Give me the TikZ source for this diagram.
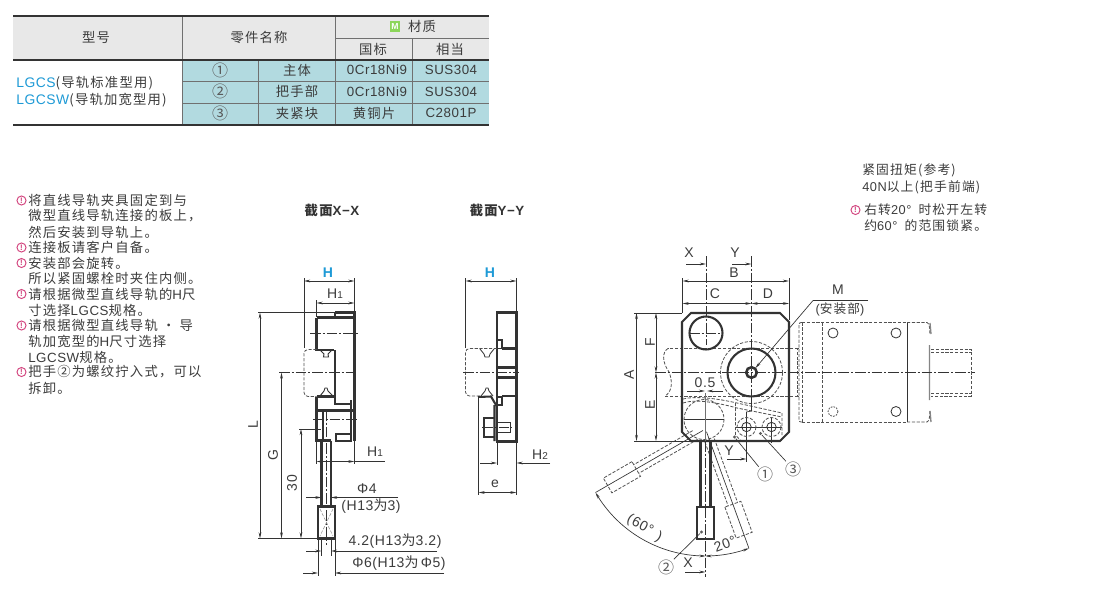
\documentclass[tikz,border=0pt]{standalone}
\usepackage{fontspec}
\usetikzlibrary{arrows.meta}
\setmainfont[LetterSpace=4]{Liberation Sans}
\newfontfamily\cjk[LetterSpace=9]{Noto Sans CJK SC}
\newfontfamily\cjkn{Noto Sans CJK SC}
\newcommand{\C}[1]{{\cjk #1}}
\newcommand{\sz}[1]{\fontsize{#1}{#1}\selectfont}
\newcommand{\subn}[1]{{\sz{7.5}#1}}
\definecolor{ln}{HTML}{333333}
\definecolor{txt}{HTML}{3C3C3C}
\definecolor{tealc}{HTML}{B2DAE0}
\definecolor{headc}{HTML}{E8E8E8}
\definecolor{bluec}{HTML}{1E9AD6}
\definecolor{pinkc}{HTML}{D2447E}
\definecolor{greenc}{HTML}{8CD65A}
\tikzset{
 >={Stealth[length=4.6pt,width=2pt]},
 x=.75pt,y=-.75pt,
 txtn/.style={text=txt,inner sep=0pt,font=\sz{10}},
 lbl/.style={text=txt,inner sep=0pt,font=\sz{10.5}},
 tbl/.style={draw=ln!70,line width=.6pt},
 rule/.style={draw=ln,line width=1.4pt},
 part/.style={draw=ln,line width=1.55pt},
 thin/.style={draw=ln,line width=.5pt},
 hid/.style={draw=ln!85,line width=.6pt,dash pattern=on 2.4pt off 1.2pt},
 ctr/.style={draw=ln,line width=.5pt,dash pattern=on 8pt off 1.5pt on 1.5pt off 1.5pt},
 noteicon/.style={circle,draw=pinkc,line width=.7pt,text=pinkc,inner sep=0pt,minimum size=6.8pt,font=\sz{6}\bfseries},
 dotc/.style={circle,fill=ln!80,inner sep=0pt,minimum size=2.6pt},
 call/.style={text=txt!85,inner sep=0pt,font=\sz{12}\cjkn},
}
\begin{document}
\begin{tikzpicture}
\useasboundingbox (0,0) rectangle (1100,596);
\fill[white] (0,0) rectangle (1100,596);
% ===== table
\fill[headc] (13,16) rectangle (489,60);
\fill[tealc] (182,60) rectangle (489,125);
\draw[tbl] (335,38) -- (489,38);
\draw[tbl] (182,81.5) -- (489,81.5) (182,103.5) -- (489,103.5);
\draw[tbl] (182,16) -- (182,125) (335,16) -- (335,125) (258,60) -- (258,125) (412,38) -- (412,125);
\draw[rule] (13,16) -- (489,16) (13,60) -- (489,60) (13,125) -- (489,125);
\node[txtn] (t1) at (96,37) {\C{型号}};
\node[txtn] (t2) at (259,37) {\C{零件名称}};
\node[fill=greenc,text=white,inner sep=0pt,minimum size=8pt,font=\sz{6.5}\bfseries] (tm) at (395,26.5) {M};
\node[txtn] (t3) at (422,26.5) {\C{材质}};
\node[txtn] (t4) at (373,49) {\C{国标}};
\node[txtn] (t5) at (450,49) {\C{相当}};
\node[call] (r1a) at (220,70) {①};
\node[call] (r2a) at (220,91.5) {②};
\node[call] (r3a) at (220,113) {③};
\node[txtn] (r1b) at (297,70) {\C{主体}};
\node[txtn] (r2b) at (297,91.5) {\C{把手部}};
\node[txtn] (r3b) at (297,113) {\C{夹紧块}};
\node[txtn] (r1c) at (377,70) {0Cr18Ni9};
\node[txtn] (r2c) at (377,91.5) {0Cr18Ni9};
\node[txtn] (r3c) at (374,113) {\C{黄铜片}};
\node[txtn] (r1d) at (451,70) {SUS304};
\node[txtn] (r2d) at (451,91.5) {SUS304};
\node[txtn] (r3d) at (451,113) {C2801P};
\node[txtn,anchor=west] (m1) at (16,83) {{\sz{10.4}\color{bluec}LGCS}\C{(导轨标准型用)}};
\node[txtn,anchor=west] (m2) at (16,100) {{\sz{10.4}\color{bluec}LGCSW}\C{(导轨加宽型用)}};
% ===== notes
\foreach \n/\yy in {a/200.5,b/247.5,c/263,d/294,e/325.5,f/372}{\node[noteicon] (ic\n) at (21.5,\yy) {!};}
\node[txtn,anchor=west] (n1) at (28,200) {\C{将直线导轨夹具固定到与}};
\node[txtn,anchor=west] (n2) at (28,216) {\C{微型直线导轨连接的板上，}};
\node[txtn,anchor=west] (n3) at (28,232) {\C{然后安装到导轨上。}};
\node[txtn,anchor=west] (n4) at (28,247.5) {\C{连接板请客户自备。}};
\node[txtn,anchor=west] (n5) at (28,263) {\C{安装部会旋转。}};
\node[txtn,anchor=west] (n6) at (28,278.5) {\C{所以紧固螺栓时夹住内侧。}};
\node[txtn,anchor=west] (n7) at (28,294) {\C{请根据微型直线导轨的}H\C{尺}};
\node[txtn,anchor=west] (n8) at (28,310) {\C{寸选择}LGCS\C{规格。}};
\node[txtn,anchor=west] (n9) at (28,325.5) {\C{请根据微型直线导轨 · 导}};
\node[txtn,anchor=west] (n10) at (28,341) {\C{轨加宽型的}H\C{尺寸选择}};
\node[txtn,anchor=west] (n11) at (28,357) {LGCSW\C{规格。}};
\node[txtn,anchor=west] (n12) at (28,372) {\C{把手②为螺纹拧入式，可以}};
\node[txtn,anchor=west] (n13) at (28,388) {\C{拆卸。}};
% top right notes
\node[txtn,anchor=west,font=\sz{9.6}] (q1) at (862,170) {\C{紧固扭矩(参考)}};
\node[txtn,anchor=west,font=\sz{9.6}] (q2) at (862,187) {40N\C{以上(把手前端)}};
\node[noteicon] (icq) at (855.5,210) {!};
\node[txtn,anchor=west,font=\sz{9.6}] (q3) at (864,210) {\C{右转}20°\;\;\C{时松开左转}};
\node[txtn,anchor=west,font=\sz{9.6}] (q4) at (864,226) {\C{约}60°\;\;\C{的范围锁紧。}};
% titles
\node[txtn,text=ln,font=\sz{10}\bfseries] (s1) at (332,210) {\C{截面}X−X};
\node[txtn,text=ln,font=\sz{10}\bfseries] (s2) at (497,210) {\C{截面}Y−Y};
% ===== Section X-X
\node[lbl,text=bluec,font=\sz{10.5}\bfseries] (hx) at (328,273) {H};
\draw[thin,<->] (304,281) -- (354.5,281);
\draw[thin] (304,278) -- (304,348) (354.5,278) -- (354.5,312);
\node[lbl] (h1x) at (335,294) {H\subn{1}};
\draw[thin,<->] (316.5,303) -- (354.5,303);
\draw[thin] (316.5,300) -- (316.5,317);
% body
\draw[part] (335,312.5) -- (354.5,312.5) -- (354.5,441) (335,312.5) -- (335,317.5);
\draw[part] (316.5,317.5) -- (354.5,317.5) (316.5,317.5) -- (316.5,350) -- (334,350);
\draw[part] (335,350) -- (335,404) -- (351,404) -- (351,410);
\draw[part] (316.5,396.5) -- (335,396.5);
\draw[part] (316.5,396.5) -- (316.5,440.5) -- (331,440.5);
\draw[part] (316.5,410.5) -- (354.5,410.5);
\draw[part,line width=1pt] (323,410.5) -- (323,440.5);
\draw[part,line width=1.1pt] (351,400) -- (351,441) -- (336,441) -- (336,434) -- (351,434);
% dashed
\draw[hid,rounded corners=3pt] (316.5,349.5) -- (304,349.5) -- (304,396.5) -- (316.5,396.5);
\draw[thin,line width=.7pt] (320,350) -- (324,354) -- (323.5,357) -- (328.5,357) -- (328,354) -- (332,350);
\draw[thin,line width=.7pt] (320,396) -- (324,391) -- (325,388) -- (327,388) -- (328,391) -- (333,396);
% centre lines
\draw[ctr] (310,333) -- (360,333);
\draw[ctr] (279,372.5) -- (358,372.5);
\draw[ctr] (313,419.5) -- (358,419.5);
\draw[ctr] (326,410) -- (326,545);
% handle
\draw[part] (321.5,440.5) -- (321.5,506.5) (331,440.5) -- (331,506.5);
\draw[part] (318,506.5) rectangle (335,538.5);
\draw[hid,draw=ln!55,line width=.4pt] (320,509) -- (333,536) (333,509) -- (320,536);
% dims
\draw[thin] (258,312.5) -- (335,312.5) (258,538.5) -- (318,538.5);
\draw[thin] (299,429) -- (321,429);
\draw[thin,<->] (260,312.5) -- (260,538.5);
\draw[thin,<->] (281.5,372.5) -- (281.5,538.5);
\draw[thin,<->] (301,429) -- (301,538.5);
\node[lbl,rotate=90] (lL) at (253,425) {L};
\node[lbl,rotate=90] (lG) at (273,455) {G};
\node[lbl,rotate=90] (l30) at (292,483) {30};
\draw[thin] (316.5,440) -- (316.5,464) (354.5,440) -- (354.5,464);
\draw[thin,<->] (316.5,461.5) -- (354.5,461.5);
\draw[thin] (354.5,461.5) -- (385,461.5);
\node[lbl] (h1y) at (375,452) {H\subn{1}};
\node[lbl] (phi4) at (367,488.5) {Φ4};
\node[lbl] (h13a) at (371,506) {(H13\C{为}3)};
\draw[thin,->] (306,497.5) -- (321.5,497.5);
\draw[thin,->] (398,497.5) -- (331,497.5);
\node[lbl] (d42) at (395,541) {4.2(H13\C{为}3.2)};
\draw[thin,->] (306,551) -- (321.5,551);
\draw[thin,->] (437,551) -- (331,551);
\draw[thin] (321.5,538) -- (321.5,556) (331,538) -- (331,556);
\node[lbl] (d6) at (399,563) {Φ6(H13\C{为}\,Φ5)};
\draw[thin,->] (303,573) -- (318,573);
\draw[thin,->] (444,573) -- (335,573);
\draw[thin] (318,538) -- (318,576) (335,538) -- (335,576);
% ===== Section Y-Y
\node[lbl,text=bluec,font=\sz{10.5}\bfseries] (hy) at (490,273) {H};
\draw[thin,<->] (465.5,281) -- (516.5,281);
\draw[thin] (465.5,278) -- (465.5,348) (516.5,278) -- (516.5,312);
\draw[part] (497,312.5) rectangle (516.5,441.5);
\draw[part] (502,348.5) -- (516.5,348.5) (497,367.5) -- (516.5,367.5) (497,377.5) -- (516.5,377.5) (502,396) -- (516.5,396);
\draw[part,line width=.9pt] (497,340) -- (502,340) -- (502,348.5) -- (497,348.5);
\draw[part,line width=.9pt] (497,397) -- (502,397) -- (502,405) -- (497,405);
\draw[hid,rounded corners=3pt] (497,348.5) -- (465.5,348.5) -- (465.5,396) -- (480,396);
\draw[thin,line width=.6pt] (480,349) -- (484,354) -- (485,357) -- (489,357) -- (490,354) -- (494,349);
\draw[thin,line width=.6pt] (481,396) -- (485,391) -- (486,388) -- (488,388) -- (489,391) -- (493,396);
\draw[ctr] (463,372.5) -- (519,372.5);
\draw[part] (478,397) -- (491,396.5) -- (496,405) -- (494.5,405) (494.5,405) -- (494.5,441);
\draw[part,line width=.8pt] (484,418) rectangle (494.5,437);
\draw[thin,line width=.6pt] (497,422.5) rectangle (510,432.5);
\draw[ctr] (482,427.5) -- (512,427.5);
\draw[thin] (478.5,397) -- (478.5,495) (497,441) -- (497,465) (516.5,441) -- (516.5,495);
\draw[thin,->] (480,463) -- (497,463);
\draw[thin,->] (550,463) -- (516.5,463);
\node[lbl] (h2) at (540,455) {H\subn{2}};
\draw[thin,<->] (478.5,492.5) -- (516.5,492.5);
\node[lbl] (ee) at (495,484) {e};
% ===== Main view
\draw[hid] (798,348.5) -- (668,348.5);
\draw[hid] (798,396) -- (665,396);
\draw[hid] (668,348.5) .. controls (662,352) and (662,362) .. (669,372) .. controls (673,382) and (672,392) .. (665,396);
\draw[hid] (751.5,372.5) circle[radius=31];
% right assembly
\draw[hid] (802,322.5) -- (907,322.5) (802,422) -- (907,422) (822,322.5) -- (822,422);
\draw[hid] (802,322.5) -- (802,422);
\draw[hid,rounded corners=1.5pt] (802,322.5) -- (799,322.5) -- (799,422) -- (802,422);
\draw[hid] (799,348.5) -- (797.5,348.5) -- (797.5,396) -- (799,396);
\draw[thin,line width=.6pt] (907,322.5) -- (907,422);
\draw[hid,rounded corners=1.5pt] (907,322.5) -- (929,322.5) -- (930,334);
\draw[hid,rounded corners=1.5pt] (907,422) -- (929,422) -- (930,410);
\draw[thin,line width=1pt,draw=ln!60] (929.5,345) -- (929.5,400) (930,323) -- (931,334) (930,411) -- (931,422);
\draw[hid] (931,349) -- (971,349) -- (971,396) -- (931,396) (931,352) -- (971,352) (931,393) -- (971,393);
\draw[thin,line width=.6pt] (833,333) circle[radius=5] (896,333) circle[radius=5] (896,411.5) circle[radius=5];
\draw[hid,dash pattern=on 1.3pt off .9pt] (833,411.5) circle[radius=5];
% lower details
\draw[hid] (704,419.5) circle[radius=20];
\draw[hid] (683,399) .. controls (695,396) and (715,398) .. (737,403) -- (782,413);
\draw[hid] (683,403) .. controls (695,399) and (715,402) .. (737,408) -- (782,417);
\draw[hid] (735.5,403) -- (735.5,435) -- (741,441) (782,413) -- (782,435);
\draw[hid] (741,440.5) -- (782,440.5);
\draw[thin] (751.5,400) -- (751.5,411) -- (746.5,412) -- (746.5,443);
\draw[thin] (771.5,417) -- (771.5,443);
\draw[thin] (736,427) -- (782,427) (684,419.5) -- (724,419.5);
\draw[thin,line width=.6pt] (746.5,427) circle[radius=4.7] (771.5,427) circle[radius=4.7];
\draw[hid] (746.5,427) circle[radius=9.5] (771.5,427) circle[radius=9.5];
% rotated handles
\foreach \ang/\g in {-60/80,20/80}{
\begin{scope}[shift={(705.5,429)},rotate=\ang]
\draw[hid] (-5,12) -- (-5,\g) (5,12) -- (5,\g);
\draw[hid] (-8.5,\g) rectangle (8.5,\g+33);
\draw[thin] (0,3) -- (0,127);
\end{scope}}
% plate
\draw[part] (691,313) -- (780,313) -- (789,322) -- (789,432) -- (780,441) -- (691,441) -- (682,432) -- (682,322) -- cycle;
\draw[part] (706,333) circle[radius=16.5];
\draw[part] (751.5,372.5) circle[radius=24];
\draw[part,line width=1.9pt] (751.5,372.5) circle[radius=5.3];
\draw[ctr] (706,256) -- (706,345) (689,333) -- (723,333);
\draw[ctr] (751.5,256) -- (751.5,402);
\draw[ctr] (655,372.5) -- (975,372.5);
\draw[draw=ln!70,line width=1.2pt] (705.5,393) -- (705.5,441);
% handle solid
\draw[part] (700.5,441) -- (700.5,507) (710.5,441) -- (710.5,507);
\draw[part] (697,507) rectangle (714,539);
\draw[ctr] (705.5,441) -- (705.5,577);
% dims main
\node[lbl] (lx) at (689,253) {X};
\draw[thin,->] (686,264) -- (706,264);
\node[lbl] (ly) at (735,253) {Y};
\draw[thin,->] (732,264) -- (751.5,264);
\node[lbl] (lb) at (734,273) {B};
\draw[thin,<->] (682.5,281) -- (789,281);
\node[lbl] (lc) at (715,294) {C};
\node[lbl] (ld) at (768,294) {D};
\draw[thin,<->] (682.5,303.5) -- (751.5,303.5);
\draw[thin,<->] (751.5,303.5) -- (789,303.5);
\draw[thin] (682.5,278) -- (682.5,313) (789,278) -- (789,320);
\draw[thin] (634,313) -- (682,313) (634,441) -- (700,441);
\draw[thin,<->] (636.5,313) -- (636.5,441);
\node[lbl,rotate=90] (la) at (629,375) {A};
\draw[thin,<->] (656,313) -- (656,372.5);
\draw[thin,<->] (656,372.5) -- (656,441);
\node[lbl,rotate=90] (lf) at (650,342) {F};
\node[lbl,rotate=90] (le) at (650,405) {E};
\node[lbl] (l05) at (705,383) {0.5};
\draw[thin,->] (687,391) -- (705,391);
\draw[thin,->] (723,391) -- (707,391);
% M
\node[lbl] (lm) at (838,290) {M};
\node[txtn,font=\sz{9.5}] (lm2) at (840,309) {(\C{安装部})};
\coordinate (mk) at (813,300.5);
\coordinate (mt) at (868,300.5);
\coordinate (mp) at (755.5,368);
\draw[thin] (mt) -- (mk);
\draw[thin,->] (mk) -- (mp);
% callouts
\node[dotc] (dot1) at (734.5,437) {};
\node[dotc] (dot3) at (760.5,433.5) {};
\node[dotc] (dot2) at (701.5,532) {};
\node[call] (c1) at (765,474.5) {①};
\node[call] (c3) at (793,469) {③};
\node[call] (c2) at (666,567) {②};
\draw[thin] (dot1) -- (c1);
\draw[thin] (dot3) -- (c3);
\draw[thin] (dot2) -- (c2);
\node[lbl] (ly2) at (729,451) {Y};
\draw[thin,->] (727,459) -- (746.5,459);
\draw[thin] (746.5,441) -- (746.5,462);
\node[lbl] (lx2) at (688,563) {X};
\draw[thin,->] (685,572) -- (705.5,572);
% arc
\draw[thin,<->] plot[domain=150:90,samples=40,smooth] ({705.5+127*cos(\x)},{429+127*sin(\x)});
\draw[thin,<->] plot[domain=70:90,samples=20,smooth] ({705.5+127*cos(\x)},{429+127*sin(\x)});
\node[lbl,rotate=-28] (a60) at (640,525) {(60°};
\node[lbl,rotate=-28] (a60b) at (659,537) {)};
\node[lbl,rotate=20] (a20) at (725,544) {20°};
\end{tikzpicture}
\end{document}
